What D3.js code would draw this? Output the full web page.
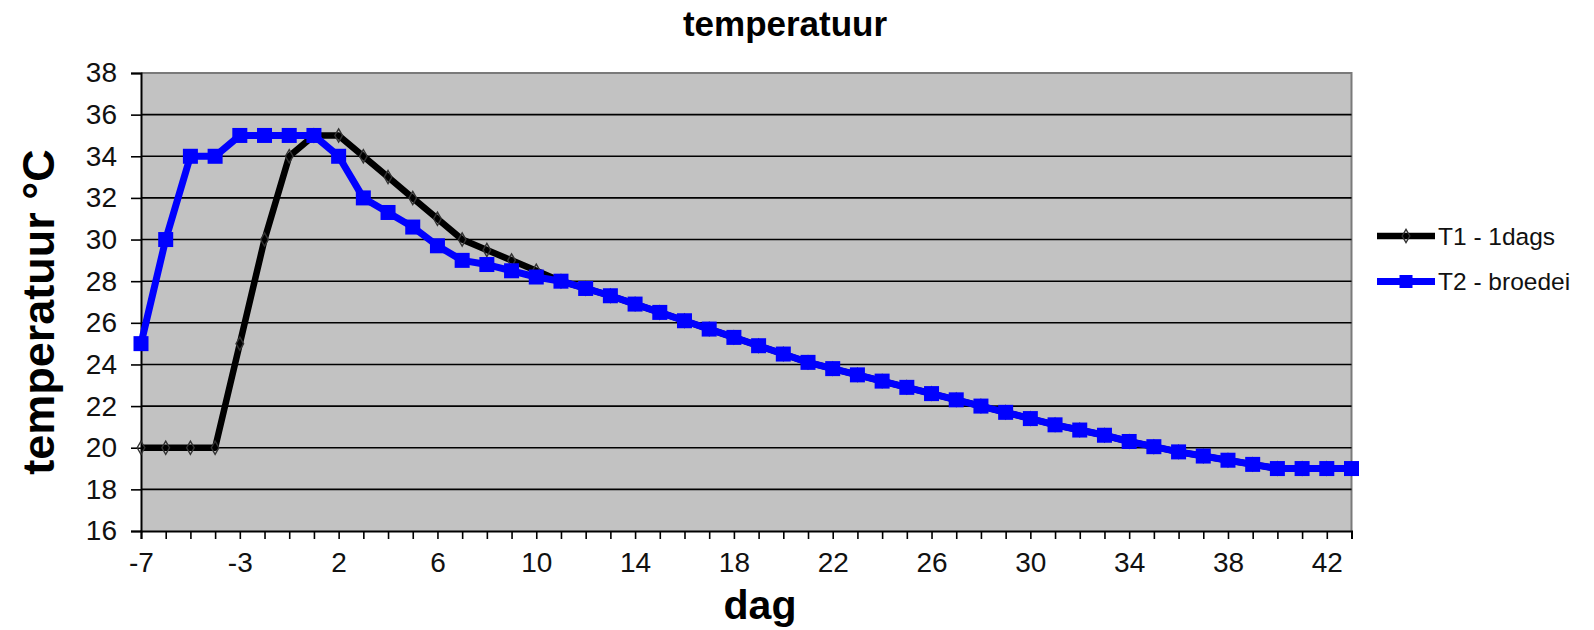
<!DOCTYPE html>
<html><head><meta charset="utf-8">
<script src="https://cdn.jsdelivr.net/npm/d3@7/dist/d3.min.js"></script>
<style>
body{margin:0;background:#fff}
svg{display:block;font-family:"Liberation Sans",Arial,sans-serif}
</style>
</head><body>
<svg id="chart" width="1594" height="630"></svg>
<script>
const categories = [-7,-6,-5,-4,-3,-2,-1,1,2,3,4,5,6,7,8,9,10,11,12,13,14,15,16,17,18,19,20,21,22,23,24,25,26,27,28,29,30,31,32,33,34,35,36,37,38,39,40,41,42,43];
const t1 = [20,20,20,20,25,30,34,35,35,34,33,32,31,30,29.5,29,28.5,28.0,
  27.65,27.3,26.9,26.5,26.1,25.7,25.3,24.9,24.5,24.1,23.8,23.5,23.2,22.9,22.6,22.3,22.0,21.7,21.4,21.1,20.85,20.6,20.3,20.05,19.8,19.6,19.4,19.2,19,19,19,19];
const t2 = [25,30,34,34,35,35,35,35,34,32,31.3,30.6,29.7,29.0,28.8,28.5,28.2,28.0,
  27.65,27.3,26.9,26.5,26.1,25.7,25.3,24.9,24.5,24.1,23.8,23.5,23.2,22.9,22.6,22.3,22.0,21.7,21.4,21.1,20.85,20.6,20.3,20.05,19.8,19.6,19.4,19.2,19,19,19,19];
const yTicks = [16,18,20,22,24,26,28,30,32,34,36,38];
const xTickLabels = [-7,-3,2,6,10,14,18,22,26,30,34,38,42];
const seriesNames = ["T1 - 1dags","T2 - broedei"];
const titleText = "temperatuur";
const yTitle = "temperatuur \u00B0C";
const xTitle = "dag";

(function(){
const svg = d3.select("#chart");
const pL = 141, pR = 1351.5, pT = 73, pB = 531;

const x = d3.scalePoint().domain(categories.map(String)).range([pL, pR]);
const y = d3.scaleLinear().domain([16,38]).range([pB, pT]);

svg.append("rect").attr("x", pL).attr("y", pT).attr("width", pR-pL).attr("height", pB-pT)
  .attr("fill", "#c2c2c2");
svg.append("path").attr("d", `M${pL},${pT}H${pR}V${pB}`).attr("fill","none")
  .attr("stroke","#7a7a7a").attr("stroke-width",2);

svg.append("g").selectAll("line").data(yTicks.filter(d => d>16 && d<38)).join("line")
  .attr("x1", pL).attr("x2", pR).attr("y1", d => y(d)).attr("y2", d => y(d))
  .attr("stroke", "#000").attr("stroke-width", 1.6);

const yAxis = svg.append("g").attr("transform", `translate(${pL},0)`)
  .call(d3.axisLeft(y).tickValues(yTicks).tickSize(10).tickPadding(14).tickFormat(d3.format("d")));
yAxis.select(".domain").attr("stroke","#000").attr("stroke-width",2);
yAxis.selectAll(".tick line").attr("stroke","#000").attr("stroke-width",1.6);
yAxis.selectAll("text").attr("font-size", 28).attr("fill","#111");

const xAxis = svg.append("g").attr("transform", `translate(0,${pB})`)
  .call(d3.axisBottom(x).tickSize(8).tickPadding(13)
    .tickFormat(d => xTickLabels.includes(+d) ? d : ""));
xAxis.select(".domain").attr("stroke","#000").attr("stroke-width",2);
xAxis.selectAll(".tick line").attr("stroke","#000").attr("stroke-width",1.6);
xAxis.selectAll("text").attr("font-size", 28).attr("fill","#111");

const line1 = d3.line().x((d,i) => x(String(categories[i]))).y(d => y(d));
svg.append("path").datum(t1).attr("d", line1).attr("fill","none")
  .attr("stroke","#000").attr("stroke-width",6.5).attr("stroke-linejoin","round");
const diamond = d3.symbol().type(d3.symbolDiamond).size(50);
svg.append("g").selectAll("path").data(t1).join("path")
  .attr("d", diamond)
  .attr("transform", (d,i) => `translate(${x(String(categories[i]))},${y(d)})`)
  .attr("fill","none").attr("stroke","#333").attr("stroke-width",1.4);

svg.append("path").datum(t2).attr("d", line1).attr("fill","none")
  .attr("stroke","#0000ff").attr("stroke-width",7).attr("stroke-linejoin","round");
const sq = 15;
svg.append("g").selectAll("rect").data(t2).join("rect")
  .attr("x", (d,i) => x(String(categories[i])) - sq/2)
  .attr("y", d => y(d) - sq/2)
  .attr("width", sq).attr("height", sq).attr("fill","#0000ff");

svg.append("text").attr("x", 785).attr("y", 36).attr("text-anchor","middle")
  .attr("font-size", 35).attr("font-weight","bold").text(titleText);
svg.append("text").attr("transform", "translate(54,312) rotate(-90)").attr("text-anchor","middle")
  .attr("font-size", 45).attr("font-weight","bold").text(yTitle);
svg.append("text").attr("x", 760).attr("y", 619).attr("text-anchor","middle")
  .attr("font-size", 41).attr("font-weight","bold").text(xTitle);

const legY = [236, 281.5];
const lg = svg.append("g");
lg.append("line").attr("x1",1377).attr("x2",1435).attr("y1",legY[0]).attr("y2",legY[0])
  .attr("stroke","#000").attr("stroke-width",6.5);
lg.append("path").attr("d", diamond).attr("transform",`translate(1406,${legY[0]})`)
  .attr("fill","none").attr("stroke","#333").attr("stroke-width",1.4);
lg.append("line").attr("x1",1377).attr("x2",1435).attr("y1",legY[1]).attr("y2",legY[1])
  .attr("stroke","#0000ff").attr("stroke-width",7);
lg.append("rect").attr("x",1406-6.5).attr("y",legY[1]-6.5).attr("width",13).attr("height",13).attr("fill","#0000ff");
lg.selectAll("text").data(seriesNames).join("text")
  .attr("x", 1438).attr("y", (d,i) => legY[i] + 8.5)
  .attr("font-size", 24.5).attr("fill","#111").text(d => d);
})();
</script>
</body></html>
